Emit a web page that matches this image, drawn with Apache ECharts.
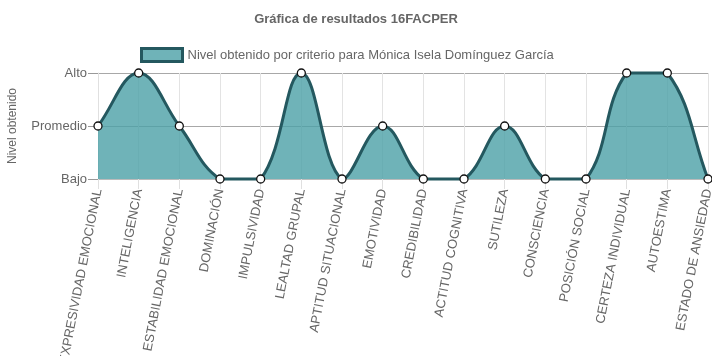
<!DOCTYPE html>
<html><head><meta charset="utf-8">
<script src="https://cdn.jsdelivr.net/npm/echarts@6/dist/echarts.min.js"></script>
<style>html,body{margin:0;padding:0;background:#fff}#c{width:712px;height:356px}</style>
</head><body><div id="c"></div>
<script>
const categories = ['EXPRESIVIDAD EMOCIONAL','INTELIGENCIA','ESTABILIDAD EMOCIONAL','DOMINACIÓN','IMPULSIVIDAD','LEALTAD GRUPAL','APTITUD SITUACIONAL','EMOTIVIDAD','CREDIBILIDAD','ACTITUD COGNITIVA','SUTILEZA','CONSCIENCIA','POSICIÓN SOCIAL','CERTEZA INDIVIDUAL','AUTOESTIMA','ESTADO DE ANSIEDAD'];
const levels = ['Bajo','Promedio','Alto'];
const values = [1,2,1,0,0,2,0,1,0,0,1,0,0,2,2,0];
const seriesName = 'Nivel obtenido por criterio para Mónica Isela Domínguez García';
const titleText = 'Gráfica de resultados 16FACPER';
const yName = 'Nivel obtenido';

const FONT = 'Liberation Sans, Arial, sans-serif';
const LINE = '#24585f';
const FILL = 'rgba(75,160,166,0.8)';
const TENSION = 0.4;

function splinePath(pts, area) {
  const n = pts.length;
  const cps = pts.map((cur, i) => {
    const prev = i > 0 ? pts[i - 1] : cur;
    const next = i < n - 1 ? pts[i + 1] : cur;
    const d01 = Math.hypot(cur[0] - prev[0], cur[1] - prev[1]);
    const d12 = Math.hypot(next[0] - cur[0], next[1] - cur[1]);
    let s01 = d01 / (d01 + d12), s12 = d12 / (d01 + d12);
    if (isNaN(s01)) s01 = 0; if (isNaN(s12)) s12 = 0;
    const fa = TENSION * s01, fb = TENSION * s12;
    const cap = p => [Math.max(area.x, Math.min(area.x + area.width, p[0])), Math.max(area.y, Math.min(area.y + area.height, p[1]))];
    return {
      prev: cap([cur[0] - fa * (next[0] - prev[0]), cur[1] - fa * (next[1] - prev[1])]),
      next: cap([cur[0] + fb * (next[0] - prev[0]), cur[1] + fb * (next[1] - prev[1])])
    };
  });
  let d = 'M' + pts[0][0] + ' ' + pts[0][1];
  for (let i = 1; i < n; i++) {
    const a = cps[i - 1].next, b = cps[i].prev, p = pts[i];
    d += ' C' + a[0] + ' ' + a[1] + ' ' + b[0] + ' ' + b[1] + ' ' + p[0] + ' ' + p[1];
  }
  return d;
}

const chart = echarts.init(document.getElementById('c'));
chart.setOption({
  animation: false,
  title: {text: titleText, left: 'center', top: 8, textStyle: {fontFamily: FONT, fontSize: 13, fontWeight: 'bold', color: '#666'}},
  legend: {top: 42, left: 135, itemWidth: 41, itemHeight: 13,
    textStyle: {fontFamily: FONT, fontSize: 13, color: '#666'},
    data: [{name: seriesName, icon: 'rect', itemStyle: {color: 'rgba(111,179,184,1)', borderColor: LINE, borderWidth: 3}}]},
  grid: {left: 98, right: 4, top: 73, bottom: 177, containLabel: false, outerBoundsMode: 'none'},
  xAxis: {type: 'category', data: categories, boundaryGap: false,
    axisLine: {lineStyle: {color: '#bbb'}},
    axisTick: {show: true, length: 10, lineStyle: {color: '#e0e0e0'}},
    splitLine: {show: true, lineStyle: {color: '#e3e3e3'}},
    axisLabel: {rotate: 79, interval: 0, fontFamily: FONT, fontSize: 13, color: '#666', margin: 10}},
  yAxis: {type: 'value', min: 0, max: 2, interval: 1,
    name: yName, nameLocation: 'middle', nameGap: 79, nameRotate: 90,
    nameTextStyle: {fontFamily: FONT, fontSize: 12, color: '#666'},
    axisLine: {show: true, lineStyle: {color: '#e0e0e0'}},
    axisTick: {show: true, length: 10, lineStyle: {color: '#999'}},
    splitLine: {show: true, lineStyle: {color: '#a8a8a8'}},
    axisLabel: {fontFamily: FONT, fontSize: 13, color: '#666', margin: 11, formatter: v => levels[v]}},
  series: [{
    name: seriesName, type: 'custom', coordinateSystem: 'cartesian2d',
    data: values.map((v, i) => [i, v]),
    z: 2,
    renderItem: (params, api) => {
      if (params.dataIndex !== 0) return null;
      const pts = values.map((v, i) => api.coord([i, v]));
      const cs = params.coordSys;
      const line = splinePath(pts, cs);
      const bottom = api.coord([0, 0])[1];
      const area = line + ' L' + pts[pts.length - 1][0] + ' ' + bottom + ' L' + pts[0][0] + ' ' + bottom + ' Z';
      return {type: 'group', children: [
        {type: 'path', shape: {pathData: area}, style: {fill: FILL, stroke: null}},
        {type: 'path', shape: {pathData: line}, style: {fill: null, stroke: LINE, lineWidth: 3, lineJoin: 'round'}}
      ]};
    }
  }, {
    name: 'puntos', type: 'line', data: values, silent: true,
    symbol: 'circle', symbolSize: 8, showAllSymbol: true,
    itemStyle: {color: '#fff', borderColor: '#111', borderWidth: 1.3},
    lineStyle: {width: 0, opacity: 0},
    z: 3
  }]
});
</script></body></html>
